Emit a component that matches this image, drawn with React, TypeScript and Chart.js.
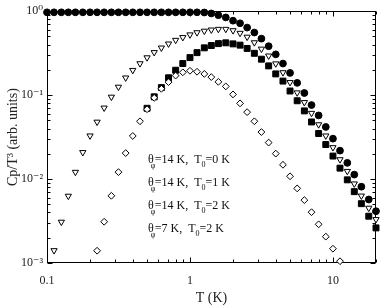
import { useEffect, useRef } from 'react';
import { Chart, registerables } from 'chart.js';

Chart.register(...registerables);

// Temperature grid (K)
const temperatureK = [
  0.1, 0.112, 0.126, 0.141, 0.158, 0.178, 0.2, 0.224, 0.251, 0.282,
  0.316, 0.355, 0.398, 0.447, 0.501, 0.562, 0.631, 0.708, 0.794, 0.891,
  1.0, 1.12, 1.26, 1.41, 1.58, 1.78, 2.0, 2.24, 2.51, 2.82,
  3.16, 3.55, 3.98, 4.47, 5.01, 5.62, 6.31, 7.08, 7.94, 8.91,
  10.0, 11.2, 12.6, 14.1, 15.8, 17.8, 20.0,
];

// theta_phi = 14 K, T0 = 0 K (filled circles)
const theta14T0of0 = [
  0.97, 0.97, 0.97, 0.97, 0.97, 0.97, 0.97, 0.97, 0.97, 0.97,
  0.97, 0.97, 0.97, 0.97, 0.97, 0.97, 0.97, 0.97, 0.97, 0.97,
  0.97, 0.97, 0.965, 0.94, 0.897, 0.843, 0.771, 0.718, 0.638, 0.557,
  0.471, 0.383, 0.306, 0.238, 0.184, 0.14, 0.106, 0.0762, 0.0573, 0.0418,
  0.0303, 0.0218, 0.0156, 0.0113, 0.00811, 0.00571, 0.00414,
];

// theta_phi = 14 K, T0 = 1 K (open down triangles)
const theta14T0of1 = [
  null, 0.00141, 0.00308, 0.00628, 0.0121, 0.0208, 0.0328, 0.0479, 0.0705, 0.0951,
  0.125, 0.161, 0.198, 0.238, 0.28, 0.323, 0.366, 0.409, 0.452, 0.488,
  0.525, 0.557, 0.581, 0.6, 0.611, 0.611, 0.589, 0.548, 0.493, 0.423,
  0.355, 0.294, 0.237, 0.186, 0.142, 0.107, 0.082, 0.061, 0.0446, 0.0328,
  0.0238, 0.0171, 0.0124, 0.00879, 0.00631, 0.00452, 0.00331,
];

// theta_phi = 14 K, T0 = 2 K (filled squares)
const theta14T0of2 = [
  null, null, null, null, null, null, null, null, null, null,
  null, null, null, null, 0.0697, 0.0955, 0.123, 0.161, 0.198, 0.238,
  0.28, 0.321, 0.366, 0.39, 0.411, 0.42, 0.408, 0.394, 0.36, 0.315,
  0.268, 0.223, 0.179, 0.147, 0.112, 0.0857, 0.0649, 0.0479, 0.0349, 0.0258,
  0.0188, 0.0135, 0.00979, 0.00708, 0.00509, 0.00361, 0.00262,
];

// theta_phi = 7 K, T0 = 2 K (open diamonds)
const theta7T0of2 = [
  null, null, null, null, null, null, null, 0.0014, 0.0031, 0.00632,
  0.0121, 0.0204, 0.0326, 0.0488, 0.0679, 0.0929, 0.119, 0.143, 0.171, 0.187,
  0.195, 0.19, 0.179, 0.164, 0.144, 0.127, 0.102, 0.0798, 0.0627, 0.0488,
  0.0363, 0.0272, 0.0201, 0.0148, 0.0108, 0.00774, 0.00561, 0.00403, 0.00289, 0.00206,
  0.00148, 0.00105, null, null, null, null, null,
];

const xTickValues = [0.1, 1, 10];
const xTickLabels = ['0.1', '1', '10'];
const yTickValues = [0.001, 0.01, 0.1, 1];
const yTickLabels = ['10⁻³', '10⁻²', '10⁻¹', '10⁰'];

const legendTheta = ['14', '14', '14', '7'];
const legendT0 = ['0', '1', '2', '2'];

const SERIF = '"Liberation Serif", "DejaVu Serif", serif';

function toPoints(values: (number | null)[]) {
  return temperatureK
    .map((t, i) => ({ x: t, y: values[i] }))
    .filter((p) => p.y !== null) as { x: number; y: number }[];
}

const framePlugin = {
  id: 'frameTicks',
  beforeDatasetsDraw(chart: any) {
    const { ctx, chartArea, scales } = chart;
    const { left, right, top, bottom } = chartArea;
    ctx.save();
    ctx.strokeStyle = '#000';
    ctx.lineWidth = 1;
    const L = Math.round(left) + 0.5;
    const R = Math.round(right) - 0.5;
    const T = Math.round(top) + 0.5;
    const B = Math.round(bottom) - 0.5;
    ctx.strokeRect(L, T, R - L, B - T);
    const xs = scales.x;
    const ys = scales.y;
    ctx.beginPath();
    for (const dec of [0.1, 1, 10]) {
      for (let m = 1; m <= 9; m++) {
        const v = dec * m;
        if (v < 0.1 || v > 20) continue;
        const px = Math.round(xs.getPixelForValue(v)) + 0.5;
        const len = m === 1 ? 5 : 3;
        ctx.moveTo(px, B);
        ctx.lineTo(px, B - len);
        ctx.moveTo(px, T);
        ctx.lineTo(px, T + len);
      }
    }
    for (const dec of [0.001, 0.01, 0.1, 1]) {
      for (let m = 1; m <= 9; m++) {
        const v = dec * m;
        if (v < 0.001 || v > 1) continue;
        const py = Math.round(ys.getPixelForValue(v)) + 0.5;
        const len = m === 1 ? 5 : 3;
        ctx.moveTo(L, py);
        ctx.lineTo(L + len, py);
        ctx.moveTo(R, py);
        ctx.lineTo(R - len, py);
      }
    }
    ctx.stroke();
    ctx.restore();
  },
};

const legendTextPlugin = {
  id: 'legendText',
  afterDatasetsDraw(chart: any) {
    const { ctx } = chart;
    ctx.save();
    ctx.fillStyle = '#111';
    ctx.textBaseline = 'middle';
    ctx.textAlign = 'left';
    const main = `12px ${SERIF}`;
    const sub = `8px ${SERIF}`;
    const x0 = 148;
    const rows = [160, 183, 206, 229];
    rows.forEach((y, i) => {
      let x = x0;
      ctx.font = main;
      ctx.fillText('θ', x, y);
      x += ctx.measureText('θ').width;
      ctx.font = sub;
      ctx.fillText('φ', x - 3, y + 6);
      x += 1;
      ctx.font = main;
      const part1 = `=${legendTheta[i]} K,  T`;
      ctx.fillText(part1, x, y);
      x += ctx.measureText(part1).width;
      ctx.font = sub;
      ctx.fillText('0', x, y + 5);
      x += ctx.measureText('0').width;
      ctx.font = main;
      ctx.fillText(`=${legendT0[i]} K`, x, y);
    });
    ctx.restore();
  },
};

export default function App() {
  const ref = useRef<HTMLCanvasElement>(null);
  useEffect(() => {
    const prev = document.body.style.margin;
    document.body.style.margin = '0';
    const common = {
      showLine: false,
      borderColor: '#000',
      borderWidth: 1,
      clip: false as any,
    };
    const chart = new Chart(ref.current as HTMLCanvasElement, {
      type: 'scatter',
      data: {
        datasets: [
          {
            ...common,
            label: 'θφ=14 K, T0=0 K',
            data: toPoints(theta14T0of0),
            pointStyle: 'circle',
            pointRadius: 3.4,
            backgroundColor: '#000',
            order: 0,
          },
          {
            ...common,
            label: 'θφ=14 K, T0=1 K',
            data: toPoints(theta14T0of1),
            pointStyle: 'triangle',
            rotation: 180,
            pointRadius: 3.6,
            backgroundColor: '#fff',
            order: 1,
          },
          {
            ...common,
            label: 'θφ=14 K, T0=2 K',
            data: toPoints(theta14T0of2),
            pointStyle: 'rect',
            pointRadius: 4.2,
            backgroundColor: '#000',
            order: 3,
          },
          {
            ...common,
            label: 'θφ=7 K, T0=2 K',
            data: toPoints(theta7T0of2),
            pointStyle: 'rectRot',
            pointRadius: 3.4,
            backgroundColor: '#fff',
            order: 2,
          },
        ],
      },
      options: {
        responsive: false,
        animation: false,
        devicePixelRatio: 1,
        layout: { padding: { top: 6, right: 6, left: 0, bottom: 0 } },
        plugins: {
          legend: { display: false },
          tooltip: { enabled: false },
        },
        scales: {
          x: {
            type: 'logarithmic',
            position: 'bottom',
            min: 0.1,
            max: 20,
            grid: { display: false, drawTicks: false },
            border: { display: false },
            afterBuildTicks: (s: any) => {
              s.ticks = xTickValues.map((v) => ({ value: v }));
            },
            afterFit: (s: any) => {
              s.height = 44;
            },
            ticks: {
              autoSkip: false,
              maxRotation: 0,
              padding: 11,
              color: '#222',
              font: { family: SERIF, size: 12 },
              callback: (_v: any, i: number) => xTickLabels[i],
            },
            title: {
              display: true,
              text: 'T (K)',
              color: '#222',
              font: { family: SERIF, size: 14 },
              padding: { top: 0, bottom: 0 },
            },
          },
          y: {
            type: 'logarithmic',
            position: 'left',
            min: 0.001,
            max: 1,
            grid: { display: false, drawTicks: false },
            border: { display: false },
            afterBuildTicks: (s: any) => {
              s.ticks = yTickValues.map((v) => ({ value: v }));
            },
            afterFit: (s: any) => {
              s.width = 47;
            },
            ticks: {
              autoSkip: false,
              padding: 4,
              color: '#222',
              font: { family: SERIF, size: 12 },
              callback: (_v: any, i: number) => yTickLabels[i],
            },
            title: {
              display: true,
              text: 'Cp/T³ (arb. units)',
              color: '#222',
              font: { family: SERIF, size: 14 },
              padding: { top: 5, bottom: 0 },
            },
          },
        },
      },
      plugins: [framePlugin, legendTextPlugin],
    } as any);
    return () => {
      chart.destroy();
      document.body.style.margin = prev;
    };
  }, []);
  return (
    <div style={{ width: 382, height: 307 }}>
      <canvas ref={ref} width={382} height={307} style={{ display: 'block' }} />
    </div>
  );
}
